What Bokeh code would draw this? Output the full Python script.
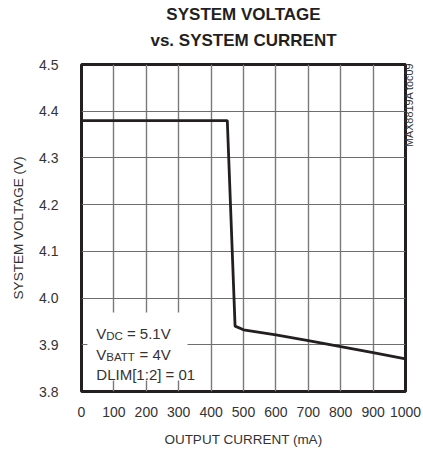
import math
from bokeh.plotting import figure
from bokeh.models import Range1d, FixedTicker, PrintfTickFormatter, Label, BoxAnnotation, Title, LinearAxis
from bokeh.embed import file_html
from bokeh.resources import INLINE

# ---- data ----
current_ma = [0, 450, 474, 500, 600, 700, 800, 900, 1000]
system_v = [4.38, 4.38, 3.94, 3.932, 3.921, 3.909, 3.896, 3.883, 3.870]
x_ticks = [0, 100, 200, 300, 400, 500, 600, 700, 800, 900, 1000]
y_ticks = [3.8, 3.9, 4.0, 4.1, 4.2, 4.3, 4.4, 4.5]

FONT = "Liberation Sans"
X0, X1, Y0, Y1 = 0, 1000, 3.8, 4.5
FL, FR, FT, FB = 81, 408, 64, 391

def dx(px):
    return X0 + (px - FL) * (X1 - X0) / (FR - FL)

def dy(py):
    return Y1 - (py - FT) * (Y1 - Y0) / (FB - FT)

p = figure(width=423, height=454, output_backend="svg", toolbar_location=None,
           x_range=Range1d(X0, X1), y_range=Range1d(Y0, Y1),
           min_border_left=FL, min_border_right=423 - FR,
           min_border_top=FT, min_border_bottom=454 - FB)
p.background_fill_color = "white"
p.border_fill_color = "white"
p.outline_line_color = "#231f20"
p.outline_line_width = 3

p.xaxis.ticker = FixedTicker(ticks=x_ticks)
p.yaxis.ticker = FixedTicker(ticks=y_ticks)
p.yaxis.formatter = PrintfTickFormatter(format="%.1f")
for ax in (p.xaxis, p.yaxis):
    ax.axis_line_color = None
    ax.major_tick_line_color = None
    ax.minor_tick_line_color = None
    ax.major_label_text_font = FONT
    ax.major_label_text_font_size = "14px"
    ax.major_label_text_color = "#333333"
    ax.axis_label_text_font = FONT
    ax.axis_label_text_font_size = "13.5px"
    ax.axis_label_text_font_style = "normal"
    ax.axis_label_text_color = "#333333"
p.xaxis.major_label_standoff = 9
p.yaxis.major_label_standoff = 17
p.xaxis.axis_label = "OUTPUT CURRENT (mA)"
p.yaxis.axis_label = "SYSTEM VOLTAGE (V)"
p.xaxis.axis_label_standoff = 12
p.yaxis.axis_label_standoff = 10

p.xgrid.grid_line_color = "#7a7a7a"
p.xgrid.grid_line_width = 1.4
p.ygrid.grid_line_color = "#6e6e6e"
p.ygrid.grid_line_width = 1.2

p.line(current_ma, system_v, line_color="#231f20", line_width=2.8)

# white box behind conditions text
p.add_layout(BoxAnnotation(left=dx(87), right=dx(188), top=dy(312), bottom=dy(380),
                           fill_color="white", fill_alpha=1.0, line_color=None))

def lab(text, px, py, size):
    p.add_layout(Label(x=dx(px), y=dy(py), text=text, text_font=FONT, text_font_size=size,
                       text_color="#333333", text_baseline="alphabetic"))

# conditions
lab("V", 96, 333, "15px")
lab("DC", 106, 335.5, "11.5px")
lab("\u00a0= 5.1V", 122.6, 333, "15px")
lab("V", 96, 354, "15px")
lab("BATT", 106, 356.5, "11.5px")
lab("\u00a0= 4V", 135.3, 354, "15px")
lab("DLIM[1:2] = 01", 96, 373.5, "15px")

# title (two lines; first added sits nearest the frame)
for txt, so in (("vs. SYSTEM CURRENT", 28.8), ("SYSTEM VOLTAGE", -18.8)):
    p.add_layout(Title(text=txt, align="center", text_font=FONT, text_font_size="17px",
                       text_font_style="bold", text_color="#231f20", standoff=so), "above")

# side code (reads bottom-to-top near the top of the right edge)
pad = "\u2003" * 7 + "\u2002"
side = LinearAxis(ticker=FixedTicker(ticks=[]), axis_line_color=None,
                  major_tick_line_color=None, minor_tick_line_color=None,
                  major_label_text_font_size="0px",
                  axis_label=pad + "MAX8819A toc09",
                  axis_label_orientation=math.pi / 2,
                  axis_label_align="center",
                  axis_label_text_font=FONT, axis_label_text_font_size="10.8px",
                  axis_label_text_font_style="normal", axis_label_text_color="#333333",
                  axis_label_standoff=3)
p.add_layout(side, "right")

open("out.html", "w").write(file_html(p, INLINE))
